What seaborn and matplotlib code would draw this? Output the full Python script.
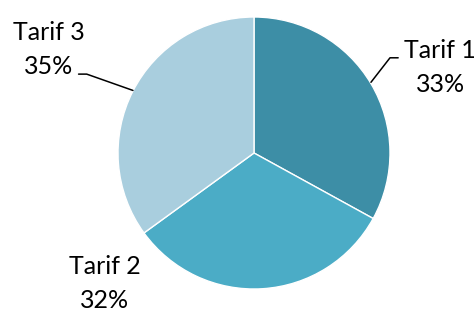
import numpy as np
import matplotlib
matplotlib.use("Agg")
import matplotlib.pyplot as plt
import seaborn as sns

labels = ["Tarif 1", "Tarif 2", "Tarif 3"]
shares = [33, 32, 35]
colors = ["#3D8EA6", "#4BACC6", "#A9CEDE"]

# label text positions (pie radius units) and leader-line points
label_pos = [(1.37, 0.63), (-1.10, -0.96), (-1.51, 0.76)]
leaders = [
    [(0.86, 0.52), (1.0, 0.70), (1.06, 0.70)],
    None,
    [(-0.89, 0.46), (-1.23, 0.58), (-1.29, 0.58)],
]

sns.set_theme(style="white")
plt.rcParams["font.family"] = ["Lato", "DejaVu Sans"]

W, H = 477, 313
R = 136.0
cx, cy = 254, 153
fig = plt.figure(figsize=(W / 100, H / 100), dpi=100)
ax = fig.add_axes([0, 0, 1, 1])

ax.pie(shares, colors=colors, startangle=90, counterclock=False,
       radius=1.0, wedgeprops=dict(edgecolor="white", linewidth=1.0))

for lab, val, (x, y) in zip(labels, shares, label_pos):
    ax.text(x, y, f"{lab}\n{val}%", ha="center", va="center",
            fontsize=18, linespacing=1.55, color="black")

for pts in leaders:
    if pts is None:
        continue
    xs, ys = zip(*pts)
    ax.plot(xs, ys, color="black", lw=1.1)

ax.set_xlim(-cx / R, (W - cx) / R)
ax.set_ylim(-(H - cy) / R, cy / R)
ax.set_aspect("equal")
ax.axis("off")

fig.savefig("out.png", dpi=100, facecolor="white")
